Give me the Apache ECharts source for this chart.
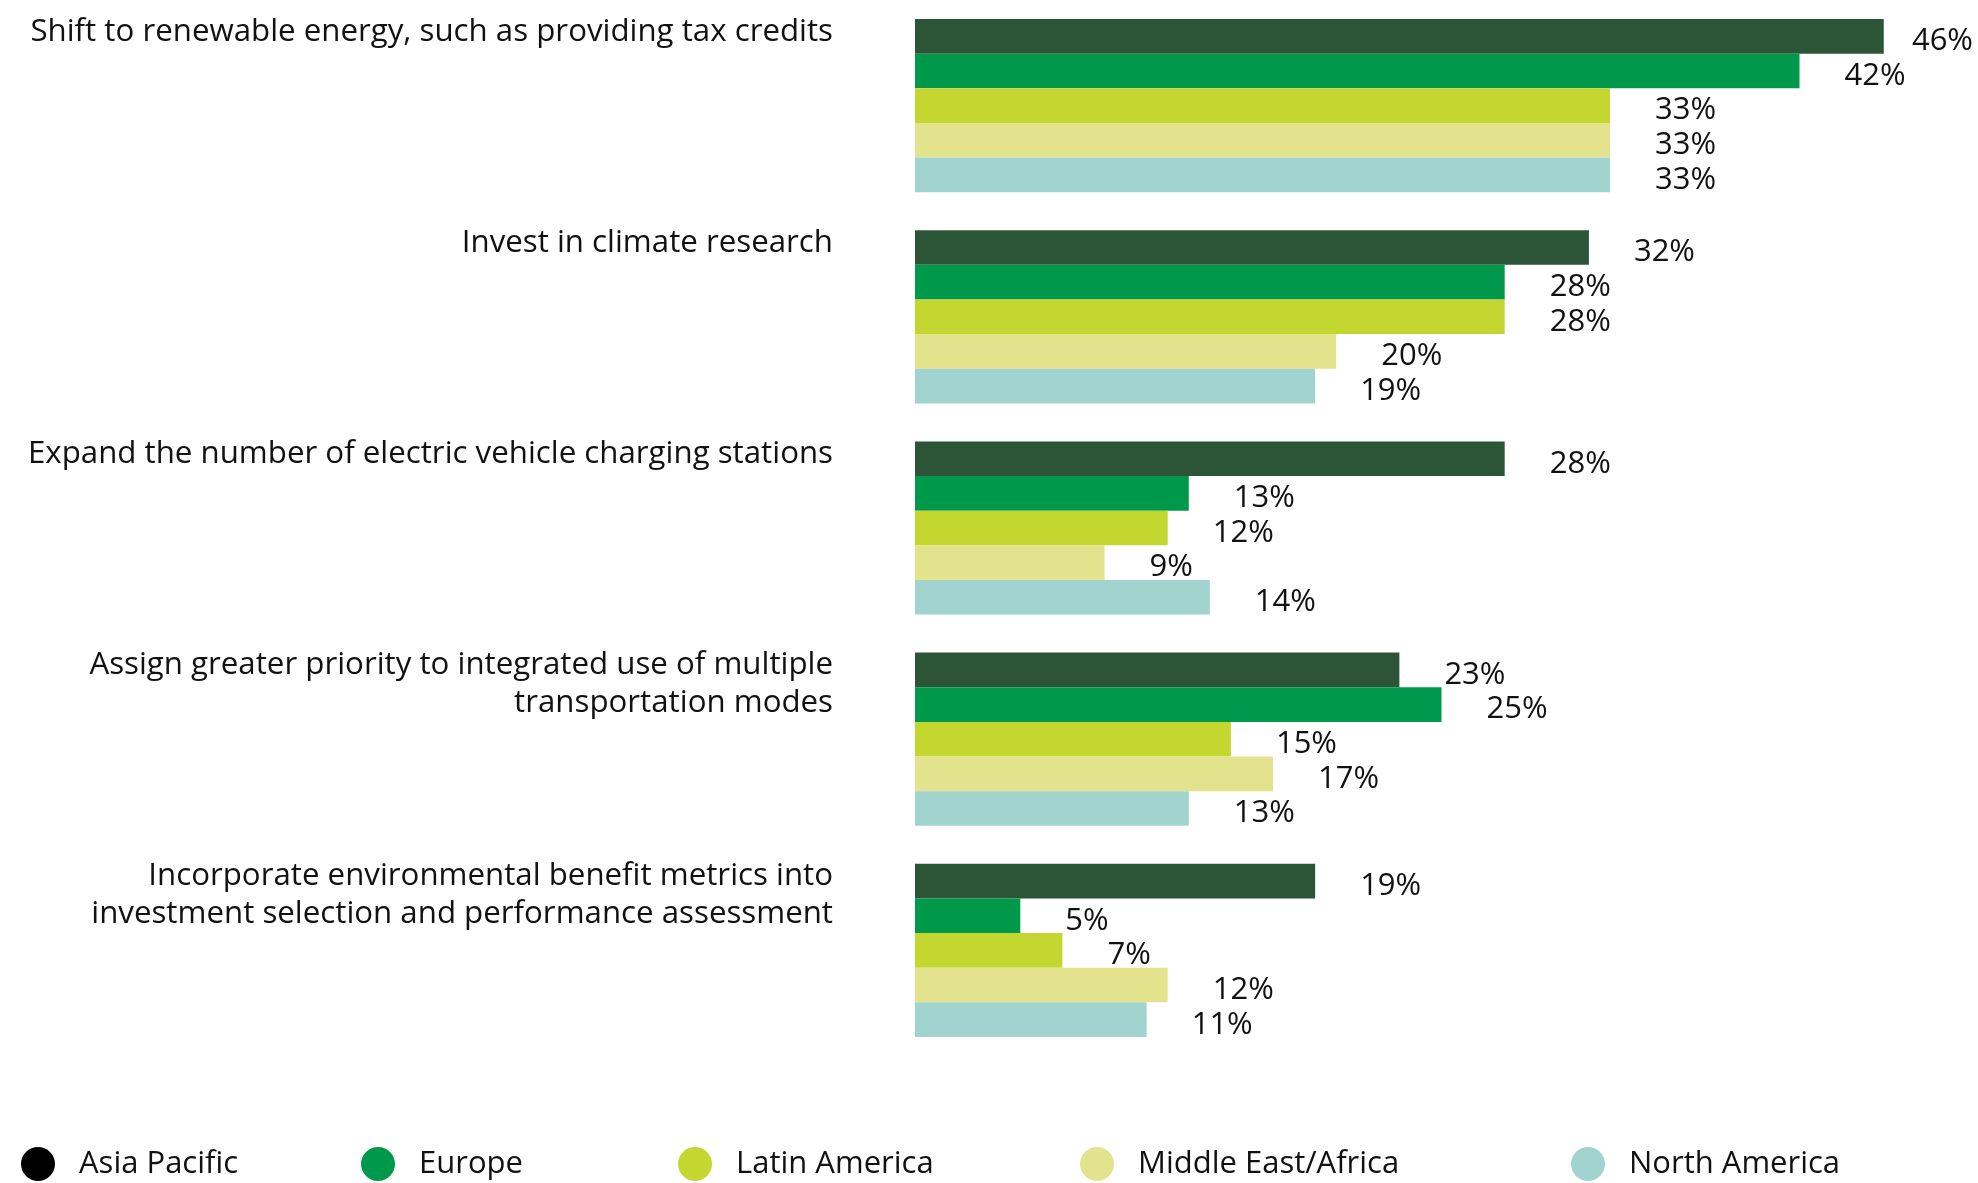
<!DOCTYPE html>
<html lang="en">
<head>
    <meta charset="UTF-8">
    <title>Climate policy priorities by region</title>
    <style>
        html, body { margin: 0; padding: 0; background: #fff; }
        #chart { width: 1978px; height: 1183px; }
    </style>
</head>
<body>
<div id="chart"></div>
<script src="https://cdn.jsdelivr.net/npm/echarts@6/dist/echarts.min.js"></script>
<script>
    var categories = [
        'Shift to renewable energy, such as providing tax credits',
        'Invest in climate research',
        'Expand the number of electric vehicle charging stations',
        'Assign greater priority to integrated use of multiple\ntransportation modes',
        'Incorporate environmental benefit metrics into\ninvestment selection and performance assessment'
    ];
    var regions = ['Asia Pacific', 'Europe', 'Latin America', 'Middle East/Africa', 'North America'];
    var asiaPacific      = [46, 32, 28, 23, 19];
    var europe           = [42, 28, 13, 25, 5];
    var latinAmerica     = [33, 28, 12, 15, 7];
    var middleEastAfrica = [33, 20, 9, 17, 12];
    var northAmerica     = [33, 19, 14, 13, 11];

    var values = [asiaPacific, europe, latinAmerica, middleEastAfrica, northAmerica];
    var colors = ['#2c5537', '#00994c', '#c4d630', '#e3e38d', '#a1d4cf'];
    var legendIcon = ['#000000', '#00994c', '#c4d630', '#e3e38d', '#a1d4cf'];
    var legendLeft = [16, 356, 673, 1075, 1566];

    var font = '"Open Sans", "Noto Sans", sans-serif';
    var dom = document.getElementById('chart');
    var chart = echarts.init(dom);
    var chartWidth = dom.clientWidth;

    var series = regions.map(function (name, i) {
        return {
            name: name,
            type: 'bar',
            data: values[i],
            barGap: '0%',
            barCategoryGap: '18%',
            itemStyle: { color: colors[i] },
            label: {
                show: true,
                position: 'right',
                distance: 45,
                formatter: '{c}%',
                color: '#111',
                fontFamily: font,
                fontSize: 31
            },
            // nudge labels down a little and keep the longest one inside the canvas
            labelLayout: function (params) {
                var r = params.labelRect;
                var over = r.x + r.width - (chartWidth - 5);
                return { dx: over > 0 ? -over : 0, dy: 5 };
            }
        };
    });

    // one legend per item so each can sit where the original puts it
    var legends = regions.map(function (name, i) {
        return {
            left: legendLeft[i],
            top: 1142,
            icon: 'circle',
            itemWidth: 34,
            itemHeight: 34,
            selectedMode: false,
            data: [{ name: name, itemStyle: { color: legendIcon[i] } }],
            textStyle: {
                color: '#111',
                fontFamily: font,
                fontSize: 31,
                padding: [0, 0, 0, 19]
            }
        };
    });

    var option = {
        animation: false,
        legend: legends,
        grid: { left: 915, right: 10, top: 0, height: 1056, containLabel: false },
        xAxis: {
            type: 'value',
            min: 0,
            max: 50,
            show: false
        },
        yAxis: {
            type: 'category',
            inverse: true,
            data: categories,
            axisLine: { show: false },
            axisTick: { show: false },
            splitLine: { show: false },
            axisLabel: {
                interval: 0,
                margin: 82,
                align: 'right',
                verticalAlign: 'top',
                padding: [-93, 0, 0, 0],
                lineHeight: 38,
                color: '#111',
                fontFamily: font,
                fontSize: 31.25
            }
        },
        series: series
    };

    chart.setOption(option);
</script>
</body>
</html>
